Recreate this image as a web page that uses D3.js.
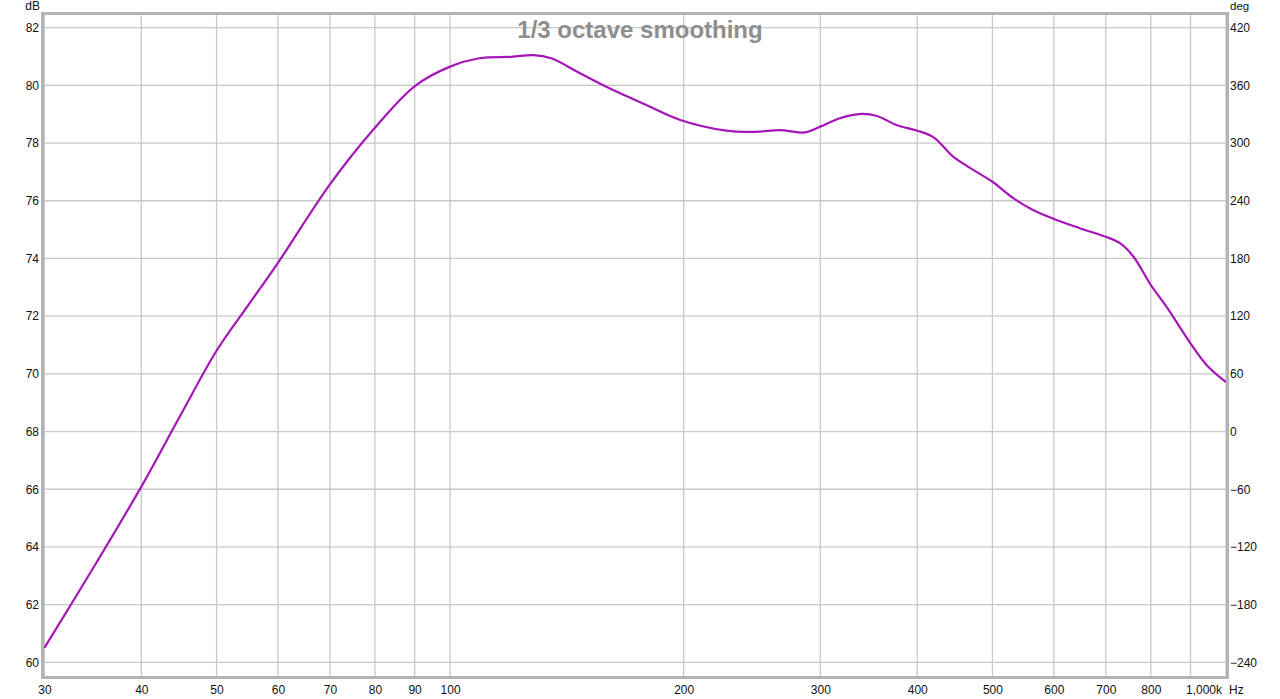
<!DOCTYPE html>
<html>
<head>
<meta charset="utf-8">
<script src="https://cdn.jsdelivr.net/npm/d3@7"></script>
<style>
  html, body { margin: 0; padding: 0; background: #ffffff; }
  svg { display: block; }
  text { font-family: "Liberation Sans", Arial, sans-serif; }
</style>
</head>
<body>
<svg id="chart" width="1280" height="699"></svg>
<script>
// ---- data ----
const freqs = [30, 35, 40, 45, 50, 55, 60, 70, 80, 90, 100, 109, 120, 128, 135, 147, 159, 179, 198, 227, 248, 266, 287, 300, 318, 339, 355, 376, 400, 420, 445, 477, 500, 532, 564, 600, 648, 700, 730, 760, 800, 838, 900, 944, 1000];
const spl   = [60.5, 63.45, 66.09, 68.6, 70.8, 72.4, 73.85, 76.57, 78.53, 79.97, 80.65, 80.94, 80.99, 81.05, 80.94, 80.42, 79.95, 79.32, 78.8, 78.43, 78.39, 78.45, 78.37, 78.57, 78.86, 79.01, 78.94, 78.63, 78.43, 78.2, 77.53, 77.0, 76.66, 76.09, 75.68, 75.37, 75.05, 74.75, 74.53, 74.06, 73.08, 72.33, 71.06, 70.31, 69.71];
const dbTicks = [60, 62, 64, 66, 68, 70, 72, 74, 76, 78, 80, 82];
const degTicks = [-240, -180, -120, -60, 0, 60, 120, 180, 240, 300, 360, 420];
const gridFreqs = [30, 40, 50, 60, 70, 80, 90, 100, 200, 300, 400, 500, 600, 700, 800, 900, 1000];
const freqLabels = [30, 40, 50, 60, 70, 80, 90, 100, 200, 300, 400, 500, 600, 700, 800];
const titleText = "1/3 octave smoothing";

// ---- layout ----
const plot = { left: 44, right: 1226, top: 15, bottom: 676 };
const svg = d3.select("#chart");

const x = d3.scaleLog().domain([30, 1000]).range([44.4, 1226]);
const y = d3.scaleLinear().domain([60, 82]).range([662.3, 27.7]);
const yDeg = d3.scaleLinear().domain([-240, 420]).range([662.3, 27.7]);

// background
svg.append("rect").attr("width", 1280).attr("height", 699).attr("fill", "#fff");

// grid
const grid = svg.append("g");
grid.selectAll("line.v").data(gridFreqs).join("line")
  .attr("x1", d => x(d)).attr("x2", d => x(d))
  .attr("y1", plot.top).attr("y2", plot.bottom)
  .attr("stroke", "#c8c8c8").attr("stroke-width", 1.3);
grid.selectAll("line.h").data(dbTicks).join("line")
  .attr("x1", plot.left).attr("x2", plot.right)
  .attr("y1", d => y(d)).attr("y2", d => y(d))
  .attr("stroke", "#c8c8c8").attr("stroke-width", 1.3);

// title
svg.append("text").attr("x", 640).attr("y", 38)
  .attr("text-anchor", "middle").attr("font-size", 24).attr("font-weight", "bold")
  .attr("fill", "#8e8e8e").text(titleText);

// curve
const pts = freqs.map((f, i) => [x(f), y(spl[i])]);
svg.append("path").datum(pts)
  .attr("d", d3.line().curve(d3.curveCatmullRom.alpha(0.5)))
  .attr("fill", "none").attr("stroke", "#a516b6").attr("stroke-width", 2.2)
  .attr("stroke-linejoin", "round");

// frame
svg.append("rect")
  .attr("x", plot.left - 1.5).attr("y", plot.top - 1.5)
  .attr("width", plot.right - plot.left + 3).attr("height", plot.bottom - plot.top + 3)
  .attr("fill", "none").attr("stroke", "#b4b4b4").attr("stroke-width", 3);

// left axis labels
const yAxisL = d3.axisLeft(y).tickValues(dbTicks).tickSize(0).tickPadding(0);
const gL = svg.append("g").attr("transform", "translate(39,0)").call(yAxisL);
gL.select(".domain").remove();
gL.selectAll("text").attr("font-size", 12).attr("fill", "#111").attr("font-family", "Liberation Sans, Arial, sans-serif");

// right axis labels
const yAxisR = d3.axisRight(yDeg).tickValues(degTicks).tickSize(0).tickPadding(0);
const gR = svg.append("g").attr("transform", "translate(1230,0)").call(yAxisR);
gR.select(".domain").remove();
gR.selectAll("text").attr("font-size", 12).attr("fill", "#111").attr("font-family", "Liberation Sans, Arial, sans-serif");

// bottom axis labels
const xAxis = d3.axisBottom(x).tickValues(freqLabels).tickFormat(d3.format("d")).tickSize(0).tickPadding(0);
const gB = svg.append("g").attr("transform", "translate(0,685)").call(xAxis);
gB.select(".domain").remove();
gB.selectAll("text").attr("font-size", 12).attr("fill", "#111").attr("font-family", "Liberation Sans, Arial, sans-serif");

// 1,000k label and unit
svg.append("text").attr("x", x(1000) - 4).attr("y", 694).attr("text-anchor", "end")
  .attr("font-size", 12).attr("fill", "#111").text("1,000k");
svg.append("text").attr("x", 1229).attr("y", 694)
  .attr("font-size", 12).attr("fill", "#111").text("Hz");

// units
svg.append("text").attr("x", 40).attr("y", 10).attr("text-anchor", "end")
  .attr("font-size", 12).attr("fill", "#111").text("dB");
svg.append("text").attr("x", 1230).attr("y", 10)
  .attr("font-size", 11.5).attr("fill", "#111").text("deg");
</script>
</body>
</html>
